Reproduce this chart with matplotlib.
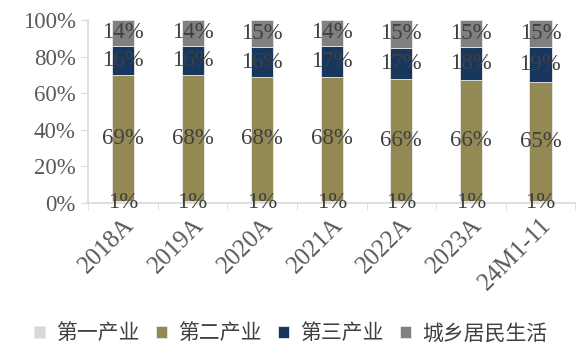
import numpy as np
import matplotlib.pyplot as plt
import matplotlib.transforms as mtransforms

categories = ["2018A", "2019A", "2020A", "2021A", "2022A", "2023A", "24M1-11"]
primary = [1, 1, 1, 1, 1, 1, 1]
secondary = [69, 68, 68, 68, 66, 66, 65]
tertiary = [16, 16, 16, 17, 17, 18, 19]
residential = [14, 14, 15, 14, 15, 15, 15]
series_names = ["第一产业", "第二产业", "第三产业", "城乡居民生活"]
colors = ["#d9d9d9", "#938953", "#17375e", "#808080"]

plt.rcParams['font.family'] = ['Liberation Serif', 'Noto Sans CJK SC']

data = np.array([primary, secondary, tertiary, residential], dtype=float)
shares = data / data.sum(axis=0) * 100
x = np.arange(len(categories))

fig = plt.figure(figsize=(5.81, 3.49), dpi=100)
ax = fig.add_axes([0.152, 0.418, 0.838, 0.525])

bottom = np.zeros(len(categories))
for vals, raw, name, c in zip(shares, data, series_names, colors):
    ax.bar(x, vals, width=0.32, bottom=bottom, color=c, label=name,
           edgecolor="#e8e8e8", linewidth=0.6)
    for xi, b, v, r in zip(x, bottom, vals, raw):
        ax.text(xi, b + v / 2, f"{r:.0f}%", ha="center", va="center",
                fontsize=16.5, color="#404040")
    bottom += vals

ax.set_xlim(-0.5, len(categories) - 0.5)
ax.set_ylim(0, 100)
ax.set_yticks(np.arange(0, 101, 20))
ax.set_yticklabels([f"{v}%" for v in range(0, 101, 20)], fontsize=16.5, color="#595959")
ax.set_xticks(x)
ax.set_xticklabels(categories, rotation=45, ha="right", rotation_mode="anchor",
                   fontsize=18, color="#595959")
shift = mtransforms.ScaledTranslation(-8 / 100, 0, fig.dpi_scale_trans)
for lbl in ax.get_xticklabels():
    lbl.set_transform(lbl.get_transform() + shift)
ax.set_xticks(np.arange(-0.5, len(categories), 1), minor=True)
ax.tick_params(axis="x", which="major", length=0, pad=8)
ax.tick_params(axis="x", which="minor", length=5, color="#d9d9d9")
ax.tick_params(axis="y", length=5, color="#d9d9d9", pad=4)
for s in ["top", "right"]:
    ax.spines[s].set_visible(False)
for s in ["left", "bottom"]:
    ax.spines[s].set_color("#d9d9d9")
    ax.spines[s].set_linewidth(1.2)

handles, labels = ax.get_legend_handles_labels()
leg = fig.legend(handles, labels, loc="center", bbox_to_anchor=(0.5, 0.045), ncol=4,
                 frameon=False, handlelength=0.55, handleheight=0.55, handletextpad=0.5,
                 columnspacing=0.8, prop={"family": ["Noto Sans CJK SC"], "size": 15})
for t in leg.get_texts():
    t.set_color("#404040")

fig.savefig("out.png", dpi=100)
plt.close()
